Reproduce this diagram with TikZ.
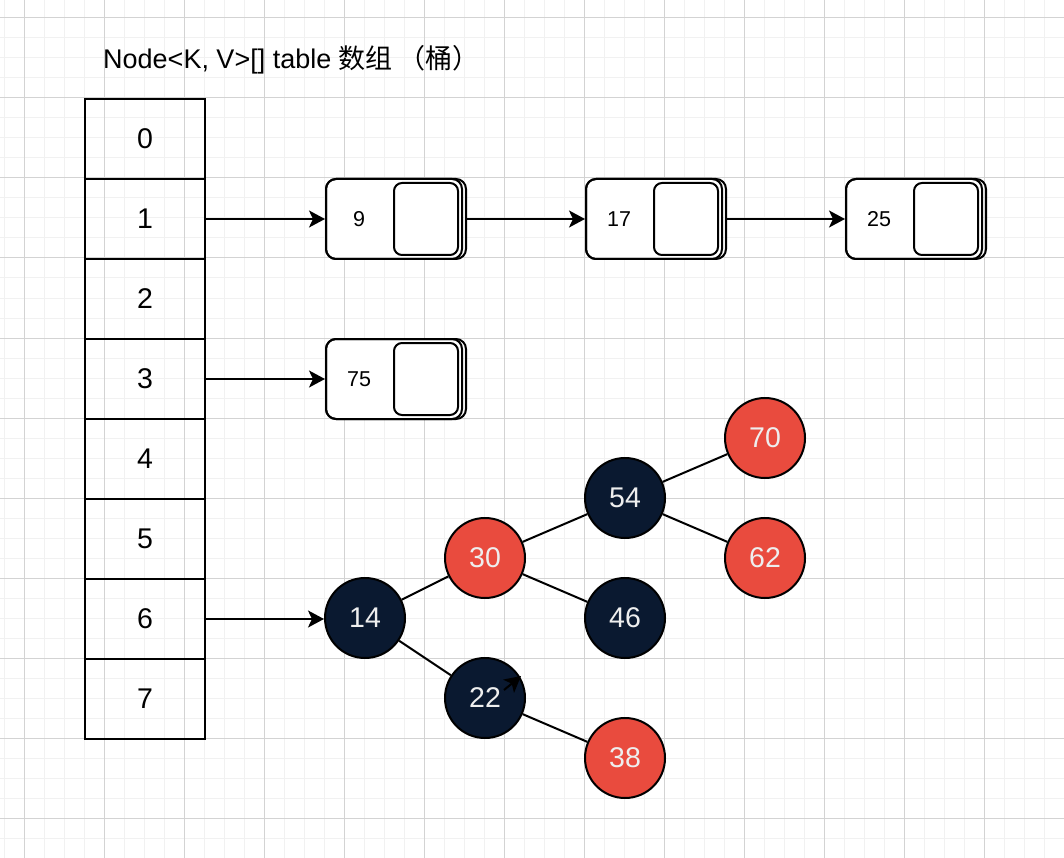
\documentclass[tikz,border=0pt]{standalone}
\usepackage{fontspec}
\setmainfont{Liberation Sans}
\newfontfamily\cjk{Noto Sans CJK SC}
\usetikzlibrary{arrows.meta}
\definecolor{rbred}{HTML}{E94B3E}
\definecolor{rbdark}{HTML}{0A1930}
\definecolor{rbtext}{HTML}{EEEEEE}
\definecolor{gridminor}{HTML}{F1F1F1}
\definecolor{gridmajor}{HTML}{D3D3D3}
\tikzset{
  cell/.style={draw=black, line width=2pt, minimum width=120pt, minimum height=80pt, inner sep=0pt, font=\fontsize{28.5pt}{30pt}\selectfont},
  lbox/.style={draw=black, line width=2pt, rounded corners=10pt, fill=white, inner sep=0pt},
  lslot/.style={draw=black, line width=2pt, rounded corners=8pt, minimum width=64pt, minimum height=72pt, inner sep=0pt},
  lval/.style={font=\fontsize{21.5pt}{24pt}\selectfont, inner sep=0pt},
  rbnode/.style={circle, draw=black, line width=2pt, minimum size=80pt, inner sep=0pt, text=rbtext, font=\fontsize{28.5pt}{30pt}\selectfont},
  rbr/.style={rbnode, fill=rbred},
  rbb/.style={rbnode, fill=rbdark},
  arr/.style={line width=2pt, -{Stealth[length=16pt, width=17pt, inset=4pt]}},
  edge/.style={line width=2pt},
}
\newcommand{\listnode}[4]{%
  \node[lbox, minimum width=136pt, minimum height=80pt, anchor=west] (#1x) at (#2,#3) {};
  \node[lbox, minimum width=140pt, minimum height=80pt, anchor=west, fill=none] (#1) at (#2,#3) {};
  \node[lslot] (#1s) at ({#2+101},#3) {};
  \node[lval] (#1v) at ({#2+34},#3) {#4};
}
\begin{document}
\begin{tikzpicture}[x=1pt,y=-1pt]
\useasboundingbox (0,0) rectangle (1064,858);
\fill[white] (0,0) rectangle (1064,858);
% grid
\foreach \x in {4,24,...,1064} \draw[gridminor, line width=1pt] (\x,0) -- (\x,858);
\foreach \y in {-2,18,...,858} \draw[gridminor, line width=1pt] (0,\y) -- (1064,\y);
\foreach \x in {24,104,...,1064} \draw[gridmajor, line width=1pt] (\x,0) -- (\x,858);
\foreach \y in {18,98,...,858} \draw[gridmajor, line width=1pt] (0,\y) -- (1064,\y);

% title
\node[anchor=base west, inner sep=0pt, font=\fontsize{27pt}{30pt}\selectfont] (title) at (103,69) {Node<K, V>[] table {\cjk 数组 （桶）}};

% table
\foreach \i in {0,...,7} \node[cell] (c\i) at (145,{139+80*\i}) {\i};

% linked list nodes
\listnode{n9}{325}{219}{9}
\listnode{n17}{585}{219}{17}
\listnode{n25}{845}{219}{25}
\listnode{n75}{325}{379}{75}

\draw[arr] (c1.east) -- (n9.west);
\draw[arr] (n9.east) -- (n17.west);
\draw[arr] (n17.east) -- (n25.west);
\draw[arr] (c3.east) -- (n75.west);

% red-black tree
\node[rbb] (t14) at (365,618) {14};
\node[rbr] (t30) at (485,558) {30};
\node[rbb] (t22) at (485,698) {22};
\node[rbb] (t54) at (625,498) {54};
\node[rbb] (t46) at (625,618) {46};
\node[rbr] (t70) at (765,438) {70};
\node[rbr] (t62) at (765,558) {62};
\node[rbr] (t38) at (625,758) {38};

\draw[arr] (c6.east) -- (t14.west |- c6.east);
\draw[edge] (t14) -- (t30);
\draw[edge] (t14) -- (t22);
\draw[edge] (t30) -- (t54);
\draw[edge] (t30) -- (t46);
\draw[edge] (t54) -- (t70);
\draw[edge] (t54) -- (t62);
\draw[edge] (t22) -- (t38);

% stray arrowhead on node 22
\coordinate (s1) at (504,690);
\coordinate (s2) at (521,676);
\draw[arr] (s1) -- (s2);
\end{tikzpicture}
\end{document}
